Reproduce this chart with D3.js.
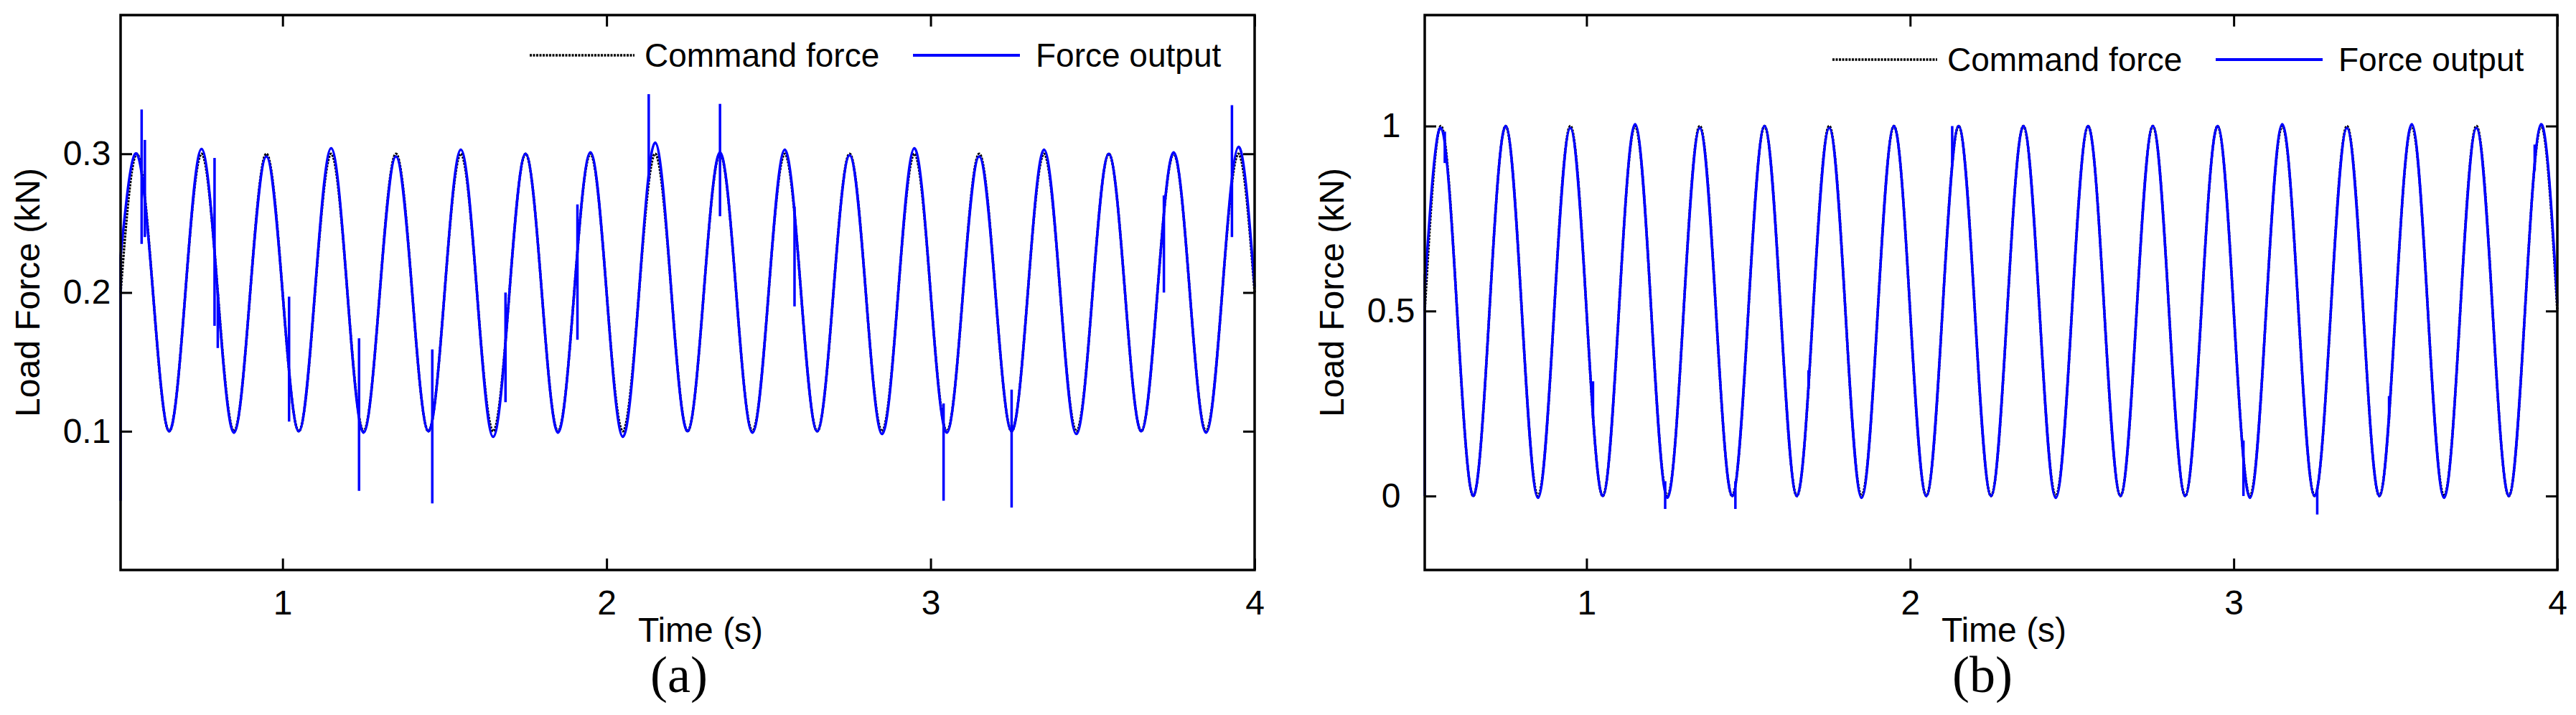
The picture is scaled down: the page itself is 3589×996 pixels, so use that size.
<!DOCTYPE html>
<html>
<head>
<meta charset="utf-8">
<script src="https://cdn.jsdelivr.net/npm/d3@7"></script>
<style>
  body { margin: 0; background: #fff; }
  svg text { font-family: "Liberation Sans", Arial, sans-serif; fill: #000; }
</style>
</head>
<body>
<div id="chart"></div>
<script>
// sample times: every quarter period of the 5 Hz load, 0.5 s .. 4 s
const time = d3.range(0.5, 4.0001, 0.05);

// (a) load 0.2 +/- 0.1 kN
const commandA = [
  0.20,0.30,0.20,0.10, 0.20,0.30,0.20,0.10, 0.20,0.30,0.20,0.10, 0.20,0.30,0.20,0.10,
  0.20,0.30,0.20,0.10, 0.20,0.30,0.20,0.10, 0.20,0.30,0.20,0.10, 0.20,0.30,0.20,0.10,
  0.20,0.30,0.20,0.10, 0.20,0.30,0.20,0.10, 0.20,0.30,0.20,0.10, 0.20,0.30,0.20,0.10,
  0.20,0.30,0.20,0.10, 0.20,0.30,0.20,0.10, 0.20,0.30,0.20,0.10, 0.20,0.30,0.20,0.10,
  0.20,0.30,0.20,0.10, 0.20,0.30,0.20
];
const outputA = [
  0.226,0.300,0.200,0.100, 0.200,0.3035,0.199,0.099, 0.200,0.298,0.200,0.100, 0.201,0.304,0.200,0.099,
  0.200,0.298,0.200,0.100, 0.200,0.303,0.200,0.096, 0.200,0.300,0.200,0.099, 0.200,0.301,0.200,0.096,
  0.200,0.308,0.200,0.100, 0.200,0.301,0.200,0.099, 0.200,0.303,0.200,0.100, 0.200,0.299,0.200,0.098,
  0.200,0.304,0.200,0.099, 0.200,0.298,0.200,0.100, 0.200,0.303,0.200,0.098, 0.200,0.300,0.200,0.100,
  0.200,0.301,0.200,0.099, 0.200,0.305,0.204
];
// disturbance spikes in the output: [time, low, high]
const spikesA = [
  [0.500, 0.050, 0.226], [0.565, 0.235, 0.332], [0.575, 0.240, 0.310],
  [0.790, 0.176, 0.297], [0.800, 0.160, 0.200], [1.020, 0.107, 0.197],
  [1.236, 0.057, 0.167], [1.462, 0.048, 0.159], [1.688, 0.121, 0.200],
  [1.910, 0.166, 0.2635], [2.130, 0.280, 0.343], [2.350, 0.255, 0.336],
  [2.580, 0.190, 0.262], [3.040, 0.050, 0.120], [3.250, 0.045, 0.130],
  [3.720, 0.200, 0.270], [3.930, 0.240, 0.335]
];

// (b) load 0.5 +/- 0.5 kN
const commandB = [
  0.5,1.0,0.5,0.0, 0.5,1.0,0.5,0.0, 0.5,1.0,0.5,0.0, 0.5,1.0,0.5,0.0,
  0.5,1.0,0.5,0.0, 0.5,1.0,0.5,0.0, 0.5,1.0,0.5,0.0, 0.5,1.0,0.5,0.0,
  0.5,1.0,0.5,0.0, 0.5,1.0,0.5,0.0, 0.5,1.0,0.5,0.0, 0.5,1.0,0.5,0.0,
  0.5,1.0,0.5,0.0, 0.5,1.0,0.5,0.0, 0.5,1.0,0.5,0.0, 0.5,1.0,0.5,0.0,
  0.5,1.0,0.5,0.0, 0.5,1.0,0.5
];
const outputB = [
  0.56,0.995,0.50,0.000, 0.50,1.000,0.50,-0.005, 0.50,0.995,0.50,0.000, 0.50,1.005,0.50,-0.005,
  0.50,0.995,0.50,0.000, 0.50,1.000,0.50,0.000, 0.50,0.995,0.50,-0.005, 0.50,1.000,0.50,0.000,
  0.50,1.000,0.50,0.000, 0.50,1.000,0.50,-0.005, 0.50,1.000,0.50,0.000, 0.50,1.000,0.50,0.000,
  0.50,1.000,0.50,-0.005, 0.50,1.005,0.50,0.000, 0.50,0.995,0.50,0.000, 0.50,1.005,0.50,-0.005,
  0.50,0.995,0.50,0.000, 0.50,1.005,0.52
];
const spikesB = [
  [0.500, 0.000, 0.600], [0.562, 0.900, 0.985], [1.020, 0.210, 0.310],
  [1.243, -0.035, 0.040], [1.460, -0.035, 0.040], [1.686, 0.290, 0.340],
  [2.130, 0.900, 1.000], [3.030, 0.000, 0.150], [3.258, -0.050, 0.020],
  [3.480, 0.206, 0.270], [3.930, 0.880, 0.950]
];

const xTicks = [1, 2, 3, 4];
const yTicksA = [0.1, 0.2, 0.3];
const yTicksB = [0, 0.5, 1];

const W = 3589, H = 996;
const svg = d3.select("#chart").append("svg")
  .attr("width", W).attr("height", H);

function panel(box, yDomain, yTicks, command, output, spikes, tag, legendY) {
  const x = d3.scaleLinear().domain([0.5, 4]).range([box.left, box.right]);
  const y = d3.scaleLinear().domain(yDomain).range([box.bottom, box.top]);
  const g = svg.append("g");

  const line = d3.line()
    .x(d => x(d[0]))
    .y(d => y(d[1]))
    .curve(d3.curveNatural);

  // command force, black dotted
  g.append("path")
    .datum(time.map((t, i) => [t, command[i]]))
    .attr("d", line)
    .attr("fill", "none")
    .attr("stroke", "#000")
    .attr("stroke-width", 3.5)
    .attr("stroke-dasharray", "3,1.5");

  // force output, blue
  g.append("path")
    .datum(time.map((t, i) => [t, output[i]]))
    .attr("d", line)
    .attr("fill", "none")
    .attr("stroke", "#0000ff")
    .attr("stroke-width", 3.5);

  g.selectAll("line.spike")
    .data(spikes)
    .enter()
    .append("line")
    .attr("class", "spike")
    .attr("x1", d => x(d[0]))
    .attr("x2", d => x(d[0]))
    .attr("y1", d => y(d[1]))
    .attr("y2", d => y(d[2]))
    .attr("stroke", "#0000ff")
    .attr("stroke-width", 3.5);

  // axes, ticks pointing inward
  const fixAxis = a => {
    a.select(".domain").remove();
    a.selectAll(".tick line").attr("stroke", "#000").attr("stroke-width", 3);
    a.selectAll("text").attr("font-size", 48).attr("font-family", "Liberation Sans, Arial, sans-serif");
  };

  g.append("g")
    .attr("transform", `translate(0,${box.bottom})`)
    .call(d3.axisBottom(x).tickValues(xTicks).tickSize(-16).tickPadding(28).tickFormat(d3.format("d")))
    .call(fixAxis);
  g.append("g")
    .attr("transform", `translate(0,${box.top})`)
    .call(d3.axisTop(x).tickValues(xTicks).tickSize(-16).tickFormat(""))
    .call(fixAxis);
  g.append("g")
    .attr("transform", `translate(${box.left},0)`)
    .call(d3.axisLeft(y).tickValues(yTicks).tickSize(-16).tickFormat(d => String(d)))
    .call(fixAxis)
    .call(a => a.selectAll("text").attr("text-anchor", "middle").attr("x", -47));
  g.append("g")
    .attr("transform", `translate(${box.right},0)`)
    .call(d3.axisRight(y).tickValues(yTicks).tickSize(-16).tickFormat(""))
    .call(fixAxis);

  // frame
  g.append("rect")
    .attr("x", box.left).attr("y", box.top)
    .attr("width", box.right - box.left).attr("height", box.bottom - box.top)
    .attr("fill", "none").attr("stroke", "#000").attr("stroke-width", 3.5);

  // legend
  const lg = g.append("g").attr("transform", `translate(${box.right},${legendY})`);
  lg.append("line").attr("x1", -1010).attr("x2", -864).attr("y1", 0).attr("y2", 0)
    .attr("stroke", "#000").attr("stroke-width", 3.5).attr("stroke-dasharray", "3,1.5");
  lg.append("text").attr("x", -850).attr("y", 16).attr("font-size", 46).text("Command force");
  lg.append("line").attr("x1", -476).attr("x2", -327).attr("y1", 0).attr("y2", 0)
    .attr("stroke", "#0000ff").attr("stroke-width", 4);
  lg.append("text").attr("x", -305).attr("y", 16).attr("font-size", 46).text("Force output");

  const cx = (box.left + box.right) / 2;
  g.append("text")
    .attr("x", cx + 18).attr("y", 894)
    .attr("text-anchor", "middle").attr("font-size", 48)
    .text("Time (s)");
  g.append("text")
    .attr("transform", `translate(${box.left - 113},${(box.top + box.bottom) / 2}) rotate(-90)`)
    .attr("text-anchor", "middle").attr("font-size", 48)
    .text("Load Force (kN)");
  g.append("text")
    .attr("x", cx - 12).attr("y", 964)
    .attr("text-anchor", "middle").attr("font-size", 72)
    .style("font-family", "'Liberation Serif', 'Times New Roman', serif")
    .text(tag);
}

panel({left: 168, right: 1748, top: 21, bottom: 794}, [0, 0.4], yTicksA,
      commandA, outputA, spikesA, "(a)", 77);
panel({left: 1985, right: 3563, top: 21, bottom: 794}, [-0.2, 1.3], yTicksB,
      commandB, outputB, spikesB, "(b)", 83);
</script>
</body>
</html>
